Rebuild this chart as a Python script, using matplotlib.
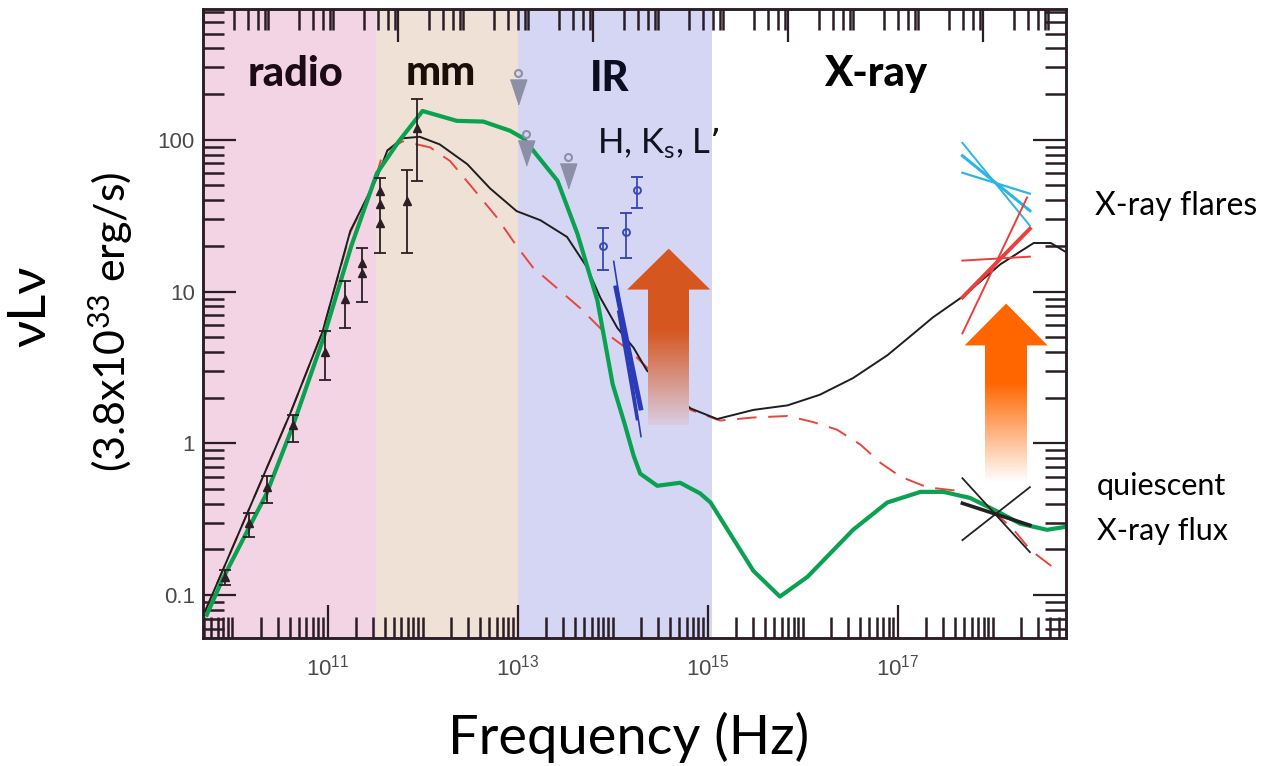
import numpy as np
import matplotlib
matplotlib.use("Agg")
import matplotlib.pyplot as plt
from matplotlib.ticker import FixedLocator, FixedFormatter, LogLocator, NullFormatter
from matplotlib.transforms import ScaledTranslation
from matplotlib.colors import to_rgb

plt.rcParams["font.family"] = ["Lato", "DejaVu Sans"]

# spectral bands (Hz)
band_names = ["radio", "mm", "IR", "X-ray"]
band_lo = [1e9, 3.2e11, 1.0e13, 1.1e15]
band_hi = [3.2e11, 1.0e13, 1.1e15, 1e20]

# model SEDs: log10(nu / Hz) and log10(nuLnu / 3.8e33 erg/s)
green_logf = [9.73, 9.90, 10.36, 10.63, 10.95, 11.25, 11.52, 11.75, 12.0, 12.36,
              12.64, 12.92, 13.06, 13.42, 13.63, 13.84, 14.0, 14.13, 14.22, 14.29,
              14.47, 14.71, 14.92, 15.03, 15.16, 15.48, 15.76, 16.05, 16.53, 16.89,
              17.24, 17.48, 17.76, 18.05, 18.29, 18.57, 18.77]
green_logL = [-1.13, -0.89, -0.33, 0.105, 0.68, 1.30, 1.78, 1.99, 2.19, 2.125,
              2.12, 2.06, 2.01, 1.73, 1.38, 0.94, 0.39, 0.12, -0.08, -0.20,
              -0.28, -0.26, -0.33, -0.39, -0.52, -0.84, -1.01, -0.88, -0.57, -0.39,
              -0.32, -0.32, -0.36, -0.45, -0.53, -0.57, -0.55]

black_logf = [9.71, 10.61, 10.95, 11.24, 11.52, 11.63, 11.79, 11.97, 12.18, 12.47,
              12.71, 12.99, 13.24, 13.52, 13.73, 13.87, 14.05, 14.22, 14.36, 14.82,
              15.10, 15.48, 15.84, 16.18, 16.53, 16.89, 17.16, 17.37, 17.69, 18.08,
              18.43, 18.61, 18.77]
black_logL = [-1.11, 0.20, 0.74, 1.40, 1.75, 1.93, 2.01, 2.02, 1.97, 1.84,
              1.68, 1.53, 1.47, 1.36, 1.16, 0.96, 0.76, 0.63, 0.48, 0.23,
              0.16, 0.22, 0.25, 0.32, 0.43, 0.58, 0.72, 0.83, 0.97, 1.18,
              1.32, 1.32, 1.26]

red_logf = [9.71, 10.61, 10.95, 11.24, 11.50, 11.58, 11.79, 11.87, 12.08, 12.29,
            12.53, 12.78, 12.99, 13.16, 13.66, 13.90, 14.18, 14.82, 15.13, 15.48,
            15.84, 16.11, 16.36, 16.61, 16.82, 17.03, 17.31, 17.59, 17.94, 18.22,
            18.39, 18.68]
red_logL = [-1.11, 0.20, 0.74, 1.39, 1.73, 1.91, 1.99, 1.98, 1.95, 1.86,
            1.68, 1.49, 1.30, 1.16, 0.89, 0.74, 0.61, 0.22, 0.15, 0.17,
            0.18, 0.14, 0.09, -0.01, -0.13, -0.22, -0.29, -0.31, -0.41, -0.57,
            -0.70, -0.84]

# radio / mm measurements with error bars
radio_logf = [9.92, 10.17, 10.36, 10.64, 10.97, 11.18, 11.36, 11.55, 11.84, 11.94]
radio_logL = [-0.88, -0.526, -0.29, 0.118, 0.60, 0.954, 1.19, 1.66, 1.60, 2.08]
radio_lo = [-0.934, -0.62, -0.395, 0.007, 0.414, 0.763, 0.93, 1.256, 1.256, 1.73]
radio_hi = [-0.835, -0.46, -0.217, 0.184, 0.743, 1.07, 1.29, 1.75, 1.80, 2.27]
radio_extra_logf = [11.36, 11.55, 11.55]
radio_extra_logL = [1.125, 1.58, 1.45]

# upper limits
limit_logf = [13.0, 13.09, 13.53]
limit_logL = [2.44, 2.04, 1.89]

# H, Ks, L' points
ir_logf = [13.90, 14.14, 14.26]
ir_logL = [1.30, 1.39, 1.67]
ir_lo = [1.14, 1.22, 1.553]
ir_hi = [1.42, 1.52, 1.757]

# NIR flare spectral slopes
ir_slope_logf = [[14.01, 14.30], [14.03, 14.30], [14.06, 14.26]]
ir_slope_logL = [[1.204, 0.039], [1.04, 0.217], [0.875, 0.151]]

# X-ray power laws
xray_logf = [17.68, 18.39]
flare_blue_logL = [[1.98, 1.434], [1.895, 1.533], [1.783, 1.645]]
flare_red_logL = [[0.961, 1.414], [0.724, 1.62], [1.204, 1.23]]
quiet_logL = [[-0.23, -0.717], [-0.395, -0.54], [-0.638, -0.289]]


def p10(v):
    return 10 ** np.asarray(v, dtype=float)


def gradient_arrow(ax, logf, shaft, head, tip, base, solid_to, bottom, color, fade_to, n=80):
    c0 = np.array(to_rgb(color))
    c1 = np.array(to_rgb(fade_to))
    ax.fill(p10([logf - head, logf, logf + head]), p10([base, tip, base]),
            color=color, lw=0, zorder=6)
    xs = p10([logf - shaft, logf + shaft, logf + shaft, logf - shaft])
    ax.fill(xs, p10([solid_to, solid_to, base + 0.005, base + 0.005]), color=color, lw=0, zorder=6)
    edges = np.linspace(solid_to, bottom, n + 1)
    step = edges[0] - edges[1]
    for i in range(n):
        t = (i + 0.5) / n
        c = c0 + (c1 - c0) * t
        ax.fill(xs, p10([edges[i + 1], edges[i + 1], edges[i] + 0.4 * step, edges[i] + 0.4 * step]),
                color=c, lw=0, zorder=6)


fig = plt.figure(figsize=(12.68, 7.66), dpi=100)
ax = fig.add_axes([203 / 1268, 128 / 766, 863 / 1268, 629 / 766])
ax.set_xscale("log")
ax.set_yscale("log")
ax.set_xlim(10 ** 9.69, 10 ** 18.77)
ax.set_ylim(10 ** -1.283, 10 ** 2.862)

band_colors = ["#f3d4e4", "#f0e1d6", "#d5d6f3", "#ffffff"]
for lo, hi, c in zip(band_lo, band_hi, band_colors):
    ax.axvspan(lo, hi, color=c, lw=0, zorder=0)

ax.plot(p10(red_logf), p10(red_logL), color="#e8453c", lw=1.4, dashes=(10, 6), zorder=3)
ax.plot(p10(black_logf), p10(black_logL), color="#1e1e1e", lw=1.4, zorder=3)
ax.plot(p10(green_logf), p10(green_logL), color="#0aa150", lw=3, zorder=3.5)

# radio points
rf, rL = p10(radio_logf), p10(radio_logL)
ax.errorbar(rf, rL, yerr=[rL - p10(radio_lo), p10(radio_hi) - rL], fmt="^", ms=6,
            color="#2b1f23", elinewidth=1.3, capsize=4, capthick=1.3, zorder=4)
ax.plot(p10(radio_extra_logf), p10(radio_extra_logL), "^", ms=6, color="#2b1f23", zorder=4)

# upper limits: open circle with a triangle hanging below
lim_col = "#8d8fa6"
tri = [(-0.33, 0.5), (0.33, 0.5), (0, -0.5)]
down = ax.transData + ScaledTranslation(0, -0.19, fig.dpi_scale_trans)
ax.plot(p10(limit_logf), p10(limit_logL), ls="none", marker=tri, ms=18, color=lim_col,
        transform=down, zorder=4)
ax.plot(p10(limit_logf), p10(limit_logL), ls="none", marker="o", ms=5, mfc="none",
        mec=lim_col, mew=1.5, zorder=4)

# infrared
blue = "#3b49b4"
irf, irL = p10(ir_logf), p10(ir_logL)
ax.errorbar(irf, irL, yerr=[irL - p10(ir_lo), p10(ir_hi) - irL], fmt="o", ms=5,
            mfc="none", mec=blue, mew=1.4, ecolor=blue, elinewidth=1.3, capsize=4,
            capthick=1.3, zorder=4)
for xs, ys, w in zip(ir_slope_logf, ir_slope_logL, [1.2, 3.5, 2.2]):
    ax.plot(p10(xs), p10(ys), color="#2b3bb8", lw=w, solid_capstyle="butt", zorder=4)

# X-ray slopes
for ys, w in zip(flare_blue_logL, [1.4, 2.2, 1.6]):
    ax.plot(p10(xray_logf), p10(ys), color="#2bb5e6", lw=w, zorder=4)
for ys, w, xe in zip(flare_red_logL, [2.8, 1.4, 1.4], [18.39, 18.36, 18.39]):
    ax.plot(p10([xray_logf[0], xe]), p10(ys), color="#e8403c", lw=w, zorder=4)
for ys, w in zip(quiet_logL, [1.3, 2.6, 1.3]):
    ax.plot(p10(xray_logf), p10(ys), color="#222222", lw=w, zorder=5)

# flare arrows
gradient_arrow(ax, 14.59, 0.216, 0.437, 1.283, 1.013, 0.743, 0.118, "#d5561f", "#d9cde2")
gradient_arrow(ax, 18.14, 0.221, 0.437, 0.921, 0.645, 0.395, -0.257, "#ff6600", "#ffffff")

# band labels
band_x = [10.66, 12.19, 13.97, 16.77]
band_y = [2.355, 2.36, 2.32, 2.355]
band_tc = ["#1c0b14", "#1a0f08", "#0c0c22", "#000000"]
for name, bx, by, tc in zip(band_names, band_x, band_y, band_tc):
    ax.text(10 ** bx, 10 ** by, name, ha="center", va="baseline", fontsize=30,
            fontweight="black", color=tc, zorder=7)
ax.text(10 ** 13.84, 10 ** 1.908, "H, $\\mathdefault{K_s}$, L\u2019", ha="left",
        va="baseline", fontsize=25, color="#111122", zorder=7)

# axes styling
frame = "#2a1d25"
for s in ax.spines.values():
    s.set_color(frame)
    s.set_linewidth(1.8)
    s.set_zorder(8)

ax.xaxis.set_major_locator(FixedLocator([1e11, 1e13, 1e15, 1e17]))
ax.xaxis.set_minor_locator(LogLocator(base=10, subs=np.arange(1, 10), numticks=40))
ax.xaxis.set_minor_formatter(NullFormatter())
ax.yaxis.set_major_locator(FixedLocator([0.1, 1, 10, 100]))
ax.yaxis.set_major_formatter(FixedFormatter(["0.1", "1", "10", "100"]))
ax.yaxis.set_minor_locator(LogLocator(base=10, subs=np.arange(2, 10), numticks=40))
ax.yaxis.set_minor_formatter(NullFormatter())

top = ax.twiny()
top.set_xscale("log")
top.set_xlim(1, 10 ** (863 / 65))
top.xaxis.set_major_locator(FixedLocator([1e3, 1e6, 1e9, 1e12]))
top.xaxis.set_minor_locator(LogLocator(base=10, subs=(1, 3, 5, 7, 9), numticks=40))
top.xaxis.set_minor_formatter(NullFormatter())
top.tick_params(axis="x", which="both", direction="in", labeltop=False, color=frame)
top.tick_params(axis="x", which="major", length=24, width=1.6)
top.tick_params(axis="x", which="minor", length=15, width=1.8)
for s in top.spines.values():
    s.set_color(frame)
    s.set_linewidth(1.8)

ax.tick_params(which="both", direction="in", top=False, right=True, color=frame,
               labelcolor="#4a4a4a", labelsize=16, labelfontfamily="Liberation Sans")
ax.tick_params(which="major", length=24, width=1.6)
ax.tick_params(which="minor", length=15, width=1.8)
ax.tick_params(axis="x", which="major", pad=12)
ax.tick_params(axis="y", which="major", pad=6)

# axis titles and side notes
fig.text(31 / 1268, 1 - 306 / 766, "\u03bdL\u03bd", rotation=90,
         ha="center", va="center", fontsize=38)
fig.text(111 / 1268, 1 - 322 / 766, "(3.8x$\\mathdefault{10^{33}}$ erg/s)", rotation=90,
         ha="center", va="center", fontsize=31)
fig.text(629 / 1268, 1 - 754 / 766, "Frequency (Hz)", ha="center", va="baseline", fontsize=39)
fig.text(1095 / 1268, 1 - 215 / 766, "X-ray flares", ha="left", va="baseline", fontsize=23)
fig.text(1097 / 1268, 1 - 495 / 766, "quiescent", ha="left", va="baseline", fontsize=22)
fig.text(1097 / 1268, 1 - 540 / 766, "X-ray flux", ha="left", va="baseline", fontsize=22)

fig.savefig("out.png", dpi=100)
